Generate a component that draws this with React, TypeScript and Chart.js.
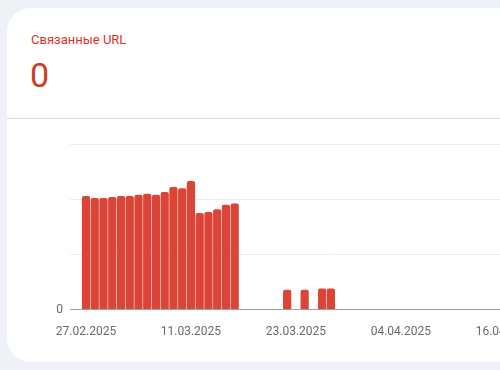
import React, { useEffect, useRef } from 'react';
import { Chart, registerables } from 'chart.js';
Chart.register(...registerables);

const titleText = 'Связанные URL';
const totalText = '0';
const barDates = [
  '27.02.2025', '28.02.2025', '01.03.2025', '02.03.2025', '03.03.2025', '04.03.2025',
  '05.03.2025', '06.03.2025', '07.03.2025', '08.03.2025', '09.03.2025', '10.03.2025',
  '11.03.2025', '12.03.2025', '13.03.2025', '14.03.2025', '15.03.2025', '16.03.2025',
  '22.03.2025', '24.03.2025', '26.03.2025', '27.03.2025',
];
const barValues = [
  206, 202, 202, 204, 206, 206, 208, 210, 208, 213, 222, 220, 233, 175, 177, 182, 190, 192,
  36, 36, 38, 38,
];
const xTickLabels = ['27.02.2025', '11.03.2025', '23.03.2025', '04.04.2025', '16.04.2025'];
const yTickValues = [0, 100, 200, 300];

const dayOf = (s: string) => {
  const [d, m, y] = s.split('.').map(Number);
  return Date.UTC(y, m - 1, d) / 86400000;
};
const base = dayOf(barDates[0]);
const idx = (s: string) => dayOf(s) - base;

export default function App() {
  const ref = useRef<HTMLCanvasElement | null>(null);
  useEffect(() => {
    if (!ref.current) return;
    const chart = new Chart(ref.current, {
      type: 'bar',
      data: {
        datasets: [
          {
            data: barDates.map((d, i) => ({ x: idx(d), y: barValues[i] })),
            backgroundColor: '#db4437',
            borderRadius: { topLeft: 2, topRight: 2, bottomLeft: 0, bottomRight: 0 },
            borderSkipped: 'start',
            barPercentage: 0.94,
            categoryPercentage: 1,
          },
        ],
      },
      options: {
        animation: false,
        responsive: false,
        maintainAspectRatio: false,
        layout: { padding: { top: 24, bottom: 3, left: 0, right: 5 } },
        plugins: { legend: { display: false }, tooltip: { enabled: false } },
        scales: {
          x: {
            type: 'linear',
            offset: false,
            min: -1.83,
            max: 58.2,
            afterBuildTicks: (scale: any) => {
              scale.ticks = xTickLabels.map((t) => ({ value: idx(t) }));
            },
            ticks: {
              autoSkip: false,
              maxRotation: 0,
              padding: 15,
              color: '#666a70',
              font: { family: 'Roboto', size: 12 },
              callback: (v: any) => {
                const t = xTickLabels.find((l) => idx(l) === v);
                return t ?? '';
              },
            },
            grid: { display: false, drawTicks: false, offset: false },
            border: { display: true, color: '#9e9e9e', width: 1 },
          },
          y: {
            min: 0,
            max: 300,
            afterBuildTicks: (scale: any) => {
              scale.ticks = yTickValues.map((v) => ({ value: v }));
            },
            afterFit: (scale: any) => {
              scale.width = 70;
            },
            ticks: {
              padding: 7,
              color: '#666a70',
              font: { family: 'Roboto', size: 12 },
              callback: (v: any) => (v === 0 ? '0' : ''),
            },
            grid: { color: '#ededed', drawTicks: false },
            border: { display: false },
          },
        },
      },
    } as any);
    return () => chart.destroy();
  }, []);

  return (
    <div
      style={{
        position: 'fixed',
        inset: 0,
        overflow: 'hidden',
        background: '#eef2f7',
        fontFamily: 'Roboto, sans-serif',
      }}
    >
      <div
        style={{
          position: 'absolute',
          left: 7,
          top: 8,
          width: 640,
          height: 354,
          borderRadius: 24,
          background: '#ffffff',
        }}
      />
      <div
        style={{
          position: 'absolute',
          left: 31,
          top: 33,
          fontSize: 13,
          lineHeight: 1,
          color: '#d93025',
          whiteSpace: 'nowrap',
        }}
      >
        {titleText}
      </div>
      <div
        style={{
          position: 'absolute',
          left: 30,
          top: 58,
          fontSize: 34,
          lineHeight: 1,
          color: '#cf3a24',
        }}
      >
        {totalText}
      </div>
      <div
        style={{
          position: 'absolute',
          left: 7,
          top: 118,
          width: 640,
          height: 1,
          background: '#dadce0',
        }}
      />
      <canvas
        ref={ref}
        width={600}
        height={237}
        style={{ position: 'absolute', left: 0, top: 120, width: 600, height: 237 }}
      />
    </div>
  );
}
